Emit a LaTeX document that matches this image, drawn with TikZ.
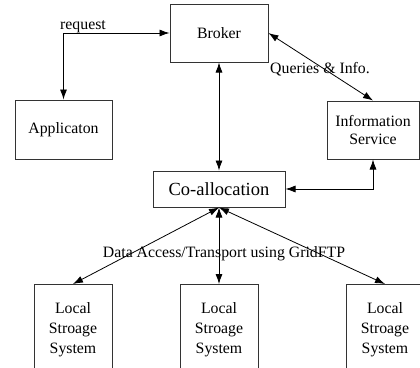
\documentclass[tikz,border=0pt]{standalone}
\usepackage{fontspec}
\setmainfont{Liberation Serif}
\usetikzlibrary{arrows.meta}
\begin{document}
\begin{tikzpicture}[x=1pt,y=-1pt,
  box/.style={draw=black!80,line width=1pt,inner sep=0pt,align=center,font=\fontsize{15.8}{18}\selectfont},
  conn/.style={line width=0.8pt,{Latex[length=10pt,width=7pt]}-{Latex[length=10pt,width=7pt]}},
  lbl/.style={font=\fontsize{15.8}{18}\selectfont,anchor=base,inner sep=0pt}]
\useasboundingbox (0,0) rectangle (420,367);
\clip (0,0) rectangle (420,367);
\node[box,minimum width=98pt,minimum height=58pt] (broker) at (219,33) {Broker};
\node[box,minimum width=97pt,minimum height=59pt] (app) at (63.5,129.5) {Applicaton};
\node[box,minimum width=92pt,minimum height=58pt] (info) at (373,130) {Information\\Service};
\node[box,minimum width=132pt,minimum height=36pt,font=\fontsize{18.5}{20}\selectfont] (coal) at (219,189) {Co-allocation};
\node[box,minimum width=78pt,minimum height=100pt,anchor=north] (ls1) at (73,284) {};
\node[box,minimum width=78pt,minimum height=100pt,anchor=north] (ls2) at (219,284) {};
\node[box,minimum width=78pt,minimum height=100pt,anchor=north] (ls3) at (385,284) {};
\node[lbl,align=center,anchor=north,font=\fontsize{15.8}{20}\selectfont] (t1) at (73,302) {Local\\Stroage\\System};
\node[lbl,align=center,anchor=north,font=\fontsize{15.8}{20}\selectfont] (t2) at (219,302) {Local\\Stroage\\System};
\node[lbl,align=center,anchor=north,font=\fontsize{15.8}{20}\selectfont] (t3) at (385,302) {Local\\Stroage\\System};
\draw[conn] (app.north) |- (broker.west);
\draw[conn] (broker.south) -- (coal.north);
\draw[conn] (broker.east) -- (info.north);
\draw[conn] (info.south) |- (coal.east);
\draw[conn] (coal.south) -- (ls1.north);
\draw[conn] (coal.south) -- (ls2.north);
\draw[conn] (coal.south) -- (ls3.north);
\node[lbl] (req) at (83,29) {request};
\node[lbl] (qi) at (320,73) {Queries \& Info.};
\node[lbl] (da) at (224,257) {Data Access/Transport using GridFTP};
\end{tikzpicture}
\end{document}
